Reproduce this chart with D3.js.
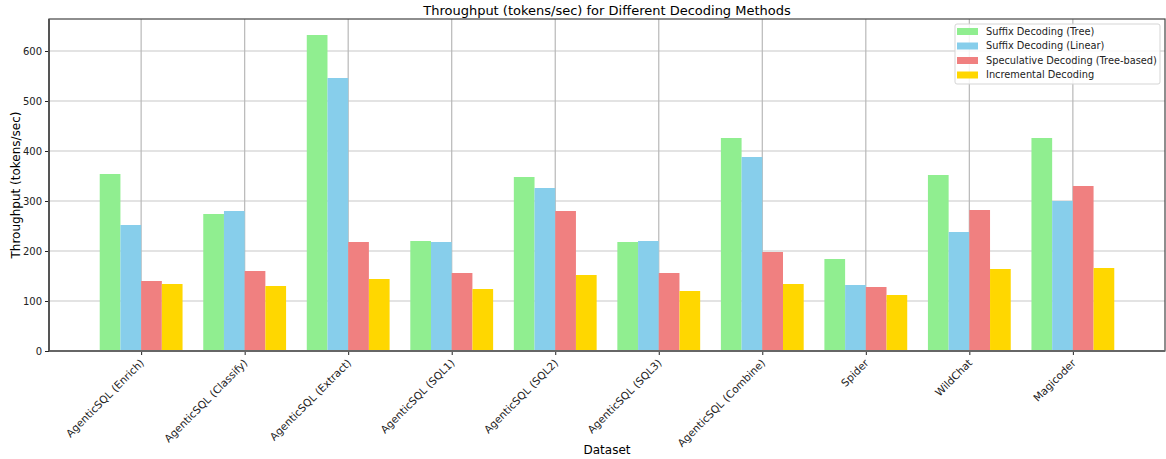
<!DOCTYPE html>
<html>
<head>
<meta charset="utf-8">
<script src="https://cdn.jsdelivr.net/npm/d3@7"></script>
<style>
  body { margin: 0; background: #fff; }
  text { font-family: "DejaVu Sans", sans-serif; }
</style>
</head>
<body>
<div id="chart"></div>
<script>
const WIDTH = 1166, HEIGHT = 459;
const MARGIN = { left: 49, right: 1, top: 19, bottom: 108 };

const datasets = ["AgenticSQL (Enrich)", "AgenticSQL (Classify)", "AgenticSQL (Extract)", "AgenticSQL (SQL1)",
    "AgenticSQL (SQL2)", "AgenticSQL (SQL3)", "AgenticSQL (Combine)", "Spider", "WildChat", "Magicoder"];
const methods = ["Suffix Decoding (Tree)", "Suffix Decoding (Linear)", "Speculative Decoding (Tree-based)", "Incremental Decoding"];
const colors = ["#90ee90", "#87ceeb", "#f08080", "#ffd700"];

const suffixTree = [354, 274, 632, 220, 348, 218, 426, 184, 352, 426];
const suffixLinear = [252, 280, 546, 218, 326, 220, 388, 132, 238, 300];
const speculative = [140, 160, 218, 156, 280, 156, 198, 128, 282, 330];
const incremental = [134, 130, 144, 124, 152, 120, 134, 112, 164, 166];
const series = [suffixTree, suffixLinear, speculative, incremental];
const yTicks = [0, 100, 200, 300, 400, 500, 600];

const iw = WIDTH - MARGIN.left - MARGIN.right;
const ih = HEIGHT - MARGIN.top - MARGIN.bottom;

const svg = d3.select("#chart").append("svg").attr("width", WIDTH).attr("height", HEIGHT);
const g = svg.append("g").attr("transform", `translate(${MARGIN.left},${MARGIN.top})`);

// matplotlib-style numeric x: group i at i, bars at i-0.3..i+0.3 width 0.2
const x = d3.scaleLinear().domain([-0.89, 9.89]).range([0, iw]);
const y = d3.scaleLinear().domain([0, 664]).range([ih, 0]);
const bw = x(0.2) - x(0);

// grid
g.append("g").selectAll("line").data(yTicks.slice(1)).join("line")
    .attr("x1", 0).attr("x2", iw).attr("y1", d => y(d)).attr("y2", d => y(d))
    .attr("stroke", "#c8c8c8").attr("stroke-width", 1.2);
g.append("g").selectAll("line").data(datasets).join("line")
    .attr("x1", (d, i) => x(i)).attr("x2", (d, i) => x(i)).attr("y1", 0).attr("y2", ih)
    .attr("stroke", "#b8b8b8").attr("stroke-width", 1.2);

// bars
series.forEach((vals, s) => {
    g.append("g").selectAll("rect").data(vals).join("rect")
        .attr("x", (d, i) => x(i - 0.4 + s * 0.2))
        .attr("width", bw)
        .attr("y", d => y(d))
        .attr("height", d => ih - y(d))
        .attr("fill", colors[s]);
});

// axes
const xAxis = g.append("g").attr("transform", `translate(0,${ih})`)
    .call(d3.axisBottom(x).tickValues(d3.range(datasets.length)).tickFormat("").tickSize(4));
xAxis.select(".domain").remove();
xAxis.selectAll("line").attr("stroke", "#222");

datasets.forEach((d, i) => {
    g.append("text")
        .attr("transform", `translate(${x(i) + 1},${ih + 10}) rotate(-45)`)
        .attr("text-anchor", "end")
        .attr("dy", "0.35em")
        .attr("font-size", 10.5)
        .attr("fill", "#222")
        .text(d);
});

const yAxis = g.append("g")
    .call(d3.axisLeft(y).tickValues(yTicks).tickSize(4).tickPadding(3));
yAxis.select(".domain").remove();
yAxis.selectAll("text").attr("font-size", 10).attr("fill", "#222").style("font-family", "DejaVu Sans");
yAxis.selectAll("line").attr("stroke", "#222");

// frame
g.append("rect").attr("x", 0).attr("y", 0).attr("width", iw).attr("height", ih)
    .attr("fill", "none").attr("stroke", "#444").attr("stroke-width", 1.2);
g.append("line").attr("x1", 0).attr("x2", iw).attr("y1", ih).attr("y2", ih)
    .attr("stroke", "#666").attr("stroke-width", 2);
g.append("line").attr("x1", 0).attr("x2", 0).attr("y1", 0).attr("y2", ih)
    .attr("stroke", "#555").attr("stroke-width", 2);

// title and labels
svg.append("text").attr("x", MARGIN.left + iw / 2).attr("y", 15)
    .attr("text-anchor", "middle").attr("font-size", 13).attr("fill", "#000")
    .text("Throughput (tokens/sec) for Different Decoding Methods");
svg.append("text").attr("x", MARGIN.left + iw / 2).attr("y", 454)
    .attr("text-anchor", "middle").attr("font-size", 12).attr("fill", "#000")
    .text("Dataset");
svg.append("text").attr("transform", `translate(20,${MARGIN.top + ih / 2}) rotate(-90)`)
    .attr("text-anchor", "middle").attr("font-size", 12).attr("fill", "#000")
    .text("Throughput (tokens/sec)");

// legend
const lg = svg.append("g").attr("transform", "translate(955,24)");
lg.append("rect").attr("width", 205).attr("height", 60).attr("rx", 2)
    .attr("fill", "#fff").attr("fill-opacity", 0.85).attr("stroke", "#d5d5d5");
methods.forEach((m, i) => {
    lg.append("rect").attr("x", 2).attr("y", 4 + i * 14.5).attr("width", 21).attr("height", 7)
        .attr("fill", colors[i]);
    lg.append("text").attr("x", 31).attr("y", 7.5 + i * 14.5).attr("dy", "0.35em")
        .attr("font-size", 9.8).attr("fill", "#222").text(m);
});
</script>
</body>
</html>
